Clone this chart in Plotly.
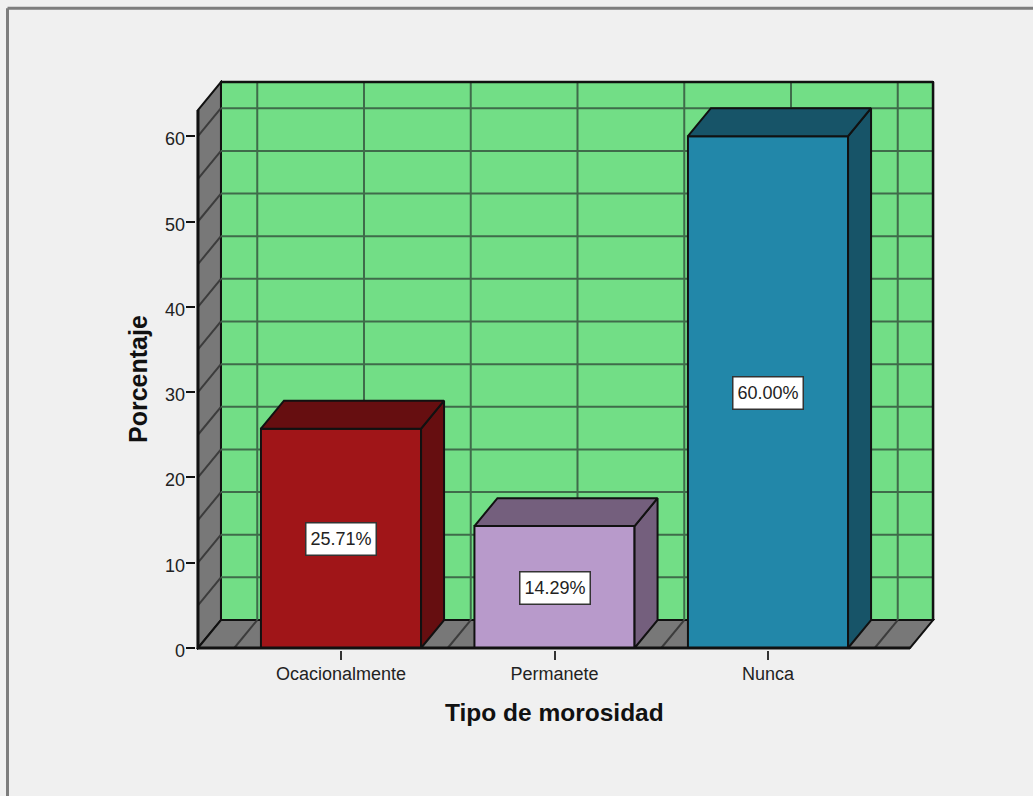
import plotly.graph_objects as go

categories = ["Ocacionalmente", "Permanete", "Nunca"]
percentages = [25.71, 14.29, 60.00]
front_colors = ["#a01518", "#b89acb", "#2287a9"]
dark_colors = ["#660e10", "#745f7d", "#175468"]
y_ticks = [0, 10, 20, 30, 40, 50, 60]
wall_grid_values = [5, 10, 15, 20, 25, 30, 35, 40, 45, 50, 55, 60]
wall_grid_positions = [-0.5, 0, 0.5, 1, 1.5, 2, 2.5]

# oblique projection of the 3D box, in axis units
DEPTH_X = 0.1077
DEPTH_Y = 3.28
BAR_WIDTH = 0.75
# axes run 2px past the box so its outline is not clipped
X_RANGE = [-0.6792, 2.7822]
Y_RANGE = [-0.2345, 66.59]
LINE = "#111111"
GRID = "#3f6b4a"

x_front_left = -0.67
x_back_left = x_front_left + DEPTH_X
x_back_right = 2.773
x_front_right = x_back_right - DEPTH_X
y_top = 66.35

PLOT_L, PLOT_T, PLOT_W, PLOT_H = 196, 80, 739, 570


def paper_x(px):
    return (px - PLOT_L) / PLOT_W


def paper_y(py):
    return (PLOT_T + PLOT_H - py) / PLOT_H


def poly(xs, ys, fill, line_color=LINE, width=2):
    path = "M " + " L ".join(f"{x},{y}" for x, y in zip(xs, ys)) + " Z"
    return dict(type="path", path=path, xref="x", yref="y", fillcolor=fill,
                line=dict(color=line_color, width=width), layer="below")


def seg(x0, y0, x1, y1, color=GRID, width=2, layer="below"):
    return dict(type="line", xref="x", yref="y", x0=x0, y0=y0, x1=x1, y1=y1,
                line=dict(color=color, width=width), layer=layer)


shapes = [
    # back wall, left wall, floor
    poly([x_back_left, x_back_right, x_back_right, x_back_left],
         [DEPTH_Y, DEPTH_Y, y_top, y_top], "#72de86"),
    poly([x_front_left, x_back_left, x_back_left, x_front_left],
         [0, DEPTH_Y, y_top, y_top - DEPTH_Y], "#787878"),
    poly([x_front_left, x_front_right, x_back_right, x_back_left],
         [0, 0, DEPTH_Y, DEPTH_Y], "#787878"),
]
for v in wall_grid_values:
    shapes.append(seg(x_back_left, v + DEPTH_Y, x_back_right, v + DEPTH_Y))
    shapes.append(seg(x_front_left, v, x_back_left, v + DEPTH_Y, color="#3c3c3c"))
for p in wall_grid_positions:
    shapes.append(seg(p + DEPTH_X, DEPTH_Y, p + DEPTH_X, y_top))
    shapes.append(seg(p, 0, p + DEPTH_X, DEPTH_Y, color="#3c3c3c"))

# heavier outline on the front edges and the top of the back wall
shapes.append(seg(x_front_left, 0, x_front_right, 0, color=LINE, width=3, layer="above"))
shapes.append(seg(x_front_left, 0, x_front_left, y_top - DEPTH_Y, color=LINE, width=3, layer="above"))
shapes.append(seg(x_back_left, y_top, x_back_right, y_top, color=LINE, width=2.5))
shapes.append(seg(x_back_right, DEPTH_Y, x_back_right, y_top, color=LINE, width=2.5))

# window frame
shapes.append(dict(type="line", xref="paper", yref="paper", x0=paper_x(7.5), x1=paper_x(1040),
                   y0=paper_y(8.3), y1=paper_y(8.3), line=dict(color="#7d7d7d", width=3)))
shapes.append(dict(type="line", xref="paper", yref="paper", x0=paper_x(7.5), x1=paper_x(7.5),
                   y0=paper_y(8.3), y1=paper_y(800), line=dict(color="#7d7d7d", width=3)))

positions = list(range(len(categories)))

fig = go.Figure()

fig.add_trace(go.Bar(
    x=positions,
    y=percentages,
    width=BAR_WIDTH,
    marker=dict(color=front_colors, line=dict(color=LINE, width=2)),
    cliponaxis=False,
    hoverinfo="skip",
    showlegend=False,
))

# side and top faces of each bar
for p, v, dark in zip(positions, percentages, dark_colors):
    left = p - BAR_WIDTH / 2
    right = p + BAR_WIDTH / 2
    fig.add_trace(go.Scatter(
        x=[right, right + DEPTH_X, right + DEPTH_X, right, right],
        y=[0, DEPTH_Y, v + DEPTH_Y, v, 0],
        mode="lines",
        fill="toself",
        fillcolor=dark,
        line=dict(color=LINE, width=2),
        cliponaxis=False,
        hoverinfo="skip",
        showlegend=False,
    ))
    fig.add_trace(go.Scatter(
        x=[left, right, right + DEPTH_X, left + DEPTH_X, left],
        y=[v, v, v + DEPTH_Y, v + DEPTH_Y, v],
        mode="lines",
        fill="toself",
        fillcolor=dark,
        line=dict(color=LINE, width=2),
        cliponaxis=False,
        hoverinfo="skip",
        showlegend=False,
    ))

annotations = [
    dict(x=p, y=v / 2, xref="x", yref="y", yshift=-1, text=f"{v:.2f}%", showarrow=False,
         font=dict(family="Liberation Sans", size=18, color="#222222"),
         bgcolor="#ffffff", bordercolor="#333333", borderwidth=1.5,
         width=67, height=29)
    for p, v in zip(positions, percentages)
]

# y tick labels sit a little below their ticks in the original
for t in y_ticks:
    annotations.append(dict(
        x=paper_x(187), y=t, xref="paper", yref="y", yshift=-3, text=str(t),
        showarrow=False, xanchor="right", yanchor="middle",
        font=dict(family="Liberation Sans", size=18, color="#222222"),
    ))

annotations.append(dict(
    x=1, y=paper_y(713), xref="x", yref="paper", text="<b>Tipo de morosidad</b>",
    showarrow=False, xanchor="center", yanchor="middle",
    font=dict(family="Liberation Sans", size=24.5, color="#111111"),
))
annotations.append(dict(
    x=paper_x(138), y=paper_y(379), xref="paper", yref="paper",
    text="<b>Porcentaje</b>", textangle=-90,
    showarrow=False, xanchor="center", yanchor="middle",
    font=dict(family="Liberation Sans", size=25, color="#111111"),
))

fig.update_layout(
    width=1033,
    height=796,
    margin=dict(l=PLOT_L, r=1033 - PLOT_L - PLOT_W, t=PLOT_T, b=796 - PLOT_T - PLOT_H),
    paper_bgcolor="#f0f0f0",
    plot_bgcolor="#f0f0f0",
    font=dict(family="Liberation Sans", color="#222222"),
    shapes=shapes,
    annotations=annotations,
    xaxis=dict(
        range=X_RANGE,
        tickmode="array",
        tickvals=positions,
        ticktext=categories,
        ticks="outside",
        ticklen=9,
        tickwidth=2,
        tickcolor="#333333",
        tickfont=dict(size=18),
        ticklabelstandoff=-2,
        showgrid=False,
        zeroline=False,
        showline=False,
        fixedrange=True,
    ),
    yaxis=dict(
        range=Y_RANGE,
        tickmode="array",
        tickvals=y_ticks,
        ticks="outside",
        ticklen=9,
        tickwidth=2,
        tickcolor="#111111",
        showticklabels=False,
        showgrid=False,
        zeroline=False,
        showline=False,
        fixedrange=True,
    ),
)

fig.write_html("out.html", config=dict(displayModeBar=False),
               post_script="document.body.style.margin='0';document.body.style.overflow='hidden';")
